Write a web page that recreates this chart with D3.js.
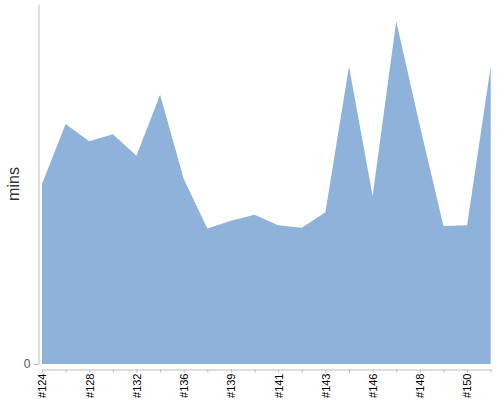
<!DOCTYPE html>
<html>
<head>
<meta charset="utf-8">
<script src="https://cdn.jsdelivr.net/npm/d3@7"></script>
<style>
  body { margin: 0; background: #fff; }
  svg { display: block; font-family: Arial, "Liberation Sans", sans-serif; }
</style>
</head>
<body>
<div id="chart"></div>
<script>
// build numbers along the x axis (every other one gets a label)
const builds = ["#124", "#126", "#128", "#130", "#132", "#134", "#136", "#137", "#139", "#140",
                "#141", "#142", "#143", "#145", "#146", "#147", "#148", "#149", "#150", "#151"];
// duration of each build, in minutes
const minutes = [10.5, 14.0, 13.0, 13.4, 12.15, 15.7, 10.8, 7.9, 8.35, 8.7,
                 8.1, 7.95, 8.85, 17.35, 9.8, 20.0, 13.9, 8.05, 8.1, 17.35];
const yTicks = [0];

const width = 500, height = 400;
const margin = { top: 4, right: 9.3, bottom: 36, left: 42 };

const svg = d3.select("#chart").append("svg")
  .attr("width", width)
  .attr("height", height);

// --- scales ---
const x = d3.scalePoint().domain(builds).range([margin.left, width - margin.right]);
const y = d3.scaleLinear().domain([0, 21]).range([height - margin.bottom, margin.top]);

// --- area ---
const area = d3.area()
  .x((d, i) => x(builds[i]))
  .y0(y(0))
  .y1(d => y(d));

svg.append("path")
  .datum(minutes)
  .attr("d", area)
  .attr("fill", "#8fb2db");

// --- y axis ---
const yAxis = svg.append("g")
  .attr("transform", "translate(38.5,0)")
  .call(d3.axisLeft(y).tickValues(yTicks).tickSize(5).tickSizeOuter(0));
yAxis.select(".domain").attr("stroke", "#bbb");
yAxis.selectAll(".tick line").attr("stroke", "#bbb");
yAxis.selectAll(".tick text").attr("fill", "#555").style("font-size", "12px").attr("x", -8);

svg.append("text")
  .attr("transform", `translate(18.5,${(margin.top + height - margin.bottom) / 2}) rotate(-90)`)
  .attr("text-anchor", "middle")
  .attr("fill", "#333")
  .style("font-size", "16px")
  .text("mins");

// --- x axis ---
const xAxis = svg.append("g")
  .attr("transform", "translate(0,369.5)")
  .call(d3.axisBottom(x).tickSize(3).tickSizeOuter(0)
    .tickFormat((d, i) => i % 2 === 0 ? d : ""));
xAxis.select(".domain").attr("stroke", "#bbb");
xAxis.selectAll(".tick line").attr("stroke", "#bbb");
xAxis.selectAll(".tick text")
  .attr("transform", "rotate(-90)")
  .attr("text-anchor", "end")
  .attr("x", -4)
  .attr("y", 0)
  .attr("dy", "0.35em")
  .attr("fill", "#000")
  .style("font-size", "11px");
</script>
</body>
</html>
